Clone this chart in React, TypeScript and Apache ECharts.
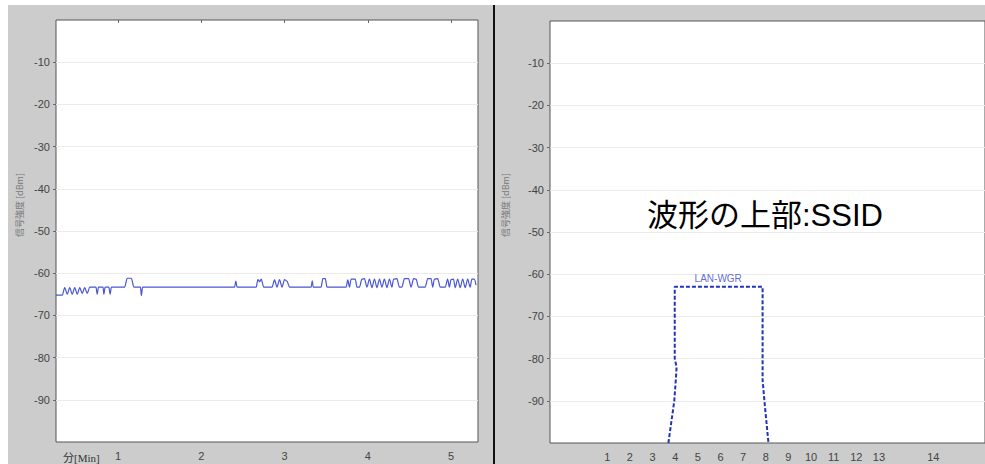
import { useEffect, useRef } from "react";
import * as echarts from "echarts";

// ---- data ----
const dbmTicks = [-90, -80, -70, -60, -50, -40, -30, -20, -10];
const minuteTicks = [1, 2, 3, 4, 5];
const channelLabels = ["1", "2", "3", "4", "5", "6", "7", "8", "9", "10", "11", "12", "13", "14"];
const channelFreqs = [2412, 2417, 2422, 2427, 2432, 2437, 2442, 2447, 2452, 2457, 2462, 2467, 2472, 2484];

// left panel: signal strength over time (minutes, dBm)
const timeMinutes = [
  0.255, 0.33, 0.36, 0.39, 0.42, 0.45, 0.48, 0.51, 0.54, 0.57, 0.6, 0.63, 0.66, 0.69,
  0.735, 0.75, 0.765, 0.82, 0.83, 0.845, 0.89, 0.905, 0.92,
  1.08, 1.11, 1.16, 1.19, 1.27, 1.28, 1.295,
  2.4, 2.415, 2.43, 2.66, 2.68, 2.7, 2.72, 2.75,
  2.85, 2.88, 2.91, 2.94, 2.97, 3.0, 3.03, 3.06,
  3.32, 3.333, 3.345, 3.44, 3.46, 3.49, 3.51,
  3.74, 3.76, 3.78, 3.8, 3.85, 3.87, 3.9, 3.93, 3.96, 3.99,
  4.02, 4.05, 4.08, 4.11, 4.14, 4.17, 4.2, 4.23, 4.26, 4.29, 4.31, 4.35, 4.38,
  4.41, 4.44, 4.49, 4.52, 4.55, 4.58, 4.61, 4.69, 4.72, 4.76, 4.78, 4.8, 4.84, 4.87,
  4.93, 4.96, 4.98, 5.0, 5.03, 5.05, 5.08, 5.11, 5.14, 5.17, 5.2, 5.23, 5.25, 5.28, 5.3
];
const signalDbm = [
  -65.2, -65.2, -63.4, -65.0, -63.4, -65.0, -63.4, -65.0, -63.4, -64.8, -63.4, -64.8, -63.3, -63.3,
  -63.3, -65.0, -63.3, -63.3, -65.0, -63.3, -63.3, -65.0, -63.3,
  -63.3, -61.2, -61.2, -63.3, -63.3, -65.3, -63.3,
  -63.3, -61.9, -63.3, -63.3, -61.5, -62.0, -61.4, -63.3,
  -63.3, -61.6, -63.3, -61.5, -63.3, -61.5, -61.9, -63.3,
  -63.3, -61.8, -63.3, -63.3, -61.3, -61.3, -63.3,
  -63.3, -61.6, -63.3, -61.4, -61.4, -63.3, -63.3, -61.4, -61.3, -63.3,
  -61.4, -63.4, -61.4, -63.4, -61.4, -63.3, -61.4, -63.4, -61.4, -63.3, -61.4, -61.3, -63.3,
  -63.3, -61.3, -61.3, -63.3, -61.3, -61.4, -63.3, -63.3, -61.3, -61.3, -63.3, -61.4, -61.3, -63.3,
  -63.3, -61.4, -63.3, -61.5, -61.4, -63.4, -61.4, -63.4, -61.4, -63.4, -61.4, -63.3, -61.4, -61.4, -62.8
];

// right panel: SSID waveform (MHz, dBm)
const ssidName = "LAN-WGR";
const ssidLabelFreq = 2436.5;
const ssidLabelDbm = -63;
const ssidFreq = [2425.5, 2426.8, 2427.2, 2427.3, 2426.9, 2426.9, 2446.3, 2446.3, 2446.7, 2447.6];
const ssidDbm = [-100, -90, -84, -82, -80, -63, -63, -85, -90, -100];

const yName = "信号強度 [dBm]";
const timeName = "分[Min]";
const annotation = "波形の上部:SSID";

export default function App() {
  const ref = useRef<HTMLDivElement>(null);
  useEffect(() => {
    if (!ref.current) return;
    const chart = echarts.init(ref.current, null, { renderer: "svg" });
    const labelStyle = { color: "#444", fontSize: 11, fontFamily: "Liberation Sans, Arial, sans-serif" };
    const yAxisCommon = {
      type: "value",
      min: -100,
      max: 0,
      interval: 10,
      axisLine: { show: false },
      axisTick: { show: true, length: 3, lineStyle: { color: "#666" }, customValues: dbmTicks },
      axisLabel: { ...labelStyle, margin: 6, customValues: dbmTicks },
      splitLine: { show: true, lineStyle: { color: "#ebebeb", width: 1 } },
    };
    const option = {
      animation: false,
      backgroundColor: "#cccccc",
      grid: [
        { left: 56, top: 20, width: 422, height: 422, show: true, backgroundColor: "#fff", borderColor: "#555", borderWidth: 1 },
        { left: 550, top: 21, right: 0, height: 422, show: true, backgroundColor: "#fff", borderColor: "#555", borderWidth: 1 },
      ],
      xAxis: [
        {
          type: "value", gridIndex: 0, min: 0.255, max: 5.324,
          axisLine: { show: false },
          axisTick: { show: true, length: 3, lineStyle: { color: "#666" }, customValues: minuteTicks },
          axisLabel: { ...labelStyle, margin: 8, customValues: minuteTicks },
          splitLine: { show: false },
        },
        {
          type: "value", gridIndex: 1, min: 2399.35, max: 2495.42,
          axisLine: { show: false },
          axisTick: { show: false },
          axisLabel: {
            ...labelStyle, margin: 8, customValues: channelFreqs,
            formatter: (v: number) => {
              const i = channelFreqs.indexOf(Math.round(v));
              return i >= 0 ? channelLabels[i] : "";
            },
          },
          splitLine: { show: false },
        },
      ],
      yAxis: [
        { ...yAxisCommon, gridIndex: 0 },
        { ...yAxisCommon, gridIndex: 1 },
      ],
      series: [
        {
          type: "line", xAxisIndex: 0, yAxisIndex: 0,
          data: timeMinutes.map((t, i) => [t, signalDbm[i]]),
          showSymbol: false, smooth: 0.3, smoothMonotone: "x",
          lineStyle: { color: "#4a56d2", width: 1.2 },
        },
        {
          type: "line", xAxisIndex: 1, yAxisIndex: 1,
          data: ssidFreq.map((f, i) => [f, ssidDbm[i]]),
          showSymbol: false,
          lineStyle: { color: "#2233bb", width: 2, type: [4, 2] },
        },
        {
          type: "scatter", xAxisIndex: 1, yAxisIndex: 1,
          data: [[ssidLabelFreq, ssidLabelDbm]],
          symbolSize: 0,
          label: { show: true, position: "top", distance: 3, formatter: ssidName, color: "#3344cc", fontSize: 10, fontFamily: "Liberation Sans, Arial, sans-serif" },
        },
      ],
      graphic: [
        { type: "rect", shape: { x: 0, y: 0, width: 985, height: 5 }, style: { fill: "#fff" }, silent: true },
        { type: "rect", shape: { x: 0, y: 0, width: 8, height: 464 }, style: { fill: "#fff" }, silent: true },
        { type: "rect", shape: { x: 493, y: 5, width: 2, height: 459 }, style: { fill: "#111" }, silent: true },
        {
          type: "text", x: 19, y: 205, rotation: Math.PI / 2,
          style: { text: yName, fill: "#777", fontSize: 9, fontFamily: "Noto Sans CJK JP, sans-serif", align: "center", verticalAlign: "middle" },
        },
        {
          type: "text", x: 505, y: 205, rotation: Math.PI / 2,
          style: { text: yName, fill: "#777", fontSize: 9, fontFamily: "Noto Sans CJK JP, sans-serif", align: "center", verticalAlign: "middle" },
        },
        {
          type: "text", x: 63, y: 458,
          style: { text: timeName, fill: "#333", fontSize: 11, fontFamily: "Liberation Serif, Noto Sans CJK JP, serif", align: "left", verticalAlign: "middle" },
        },
        {
          type: "text", x: 647, y: 215,
          style: { text: annotation, fill: "#000", fontSize: 31, fontFamily: "Liberation Sans, Noto Sans CJK JP, sans-serif", align: "left", verticalAlign: "middle" },
        },
      ],
    };
    chart.setOption(option as any);
    return () => chart.dispose();
  }, []);
  return <div ref={ref} style={{ position: "fixed", left: 0, top: 0, width: 985, height: 464 }} />;
}
